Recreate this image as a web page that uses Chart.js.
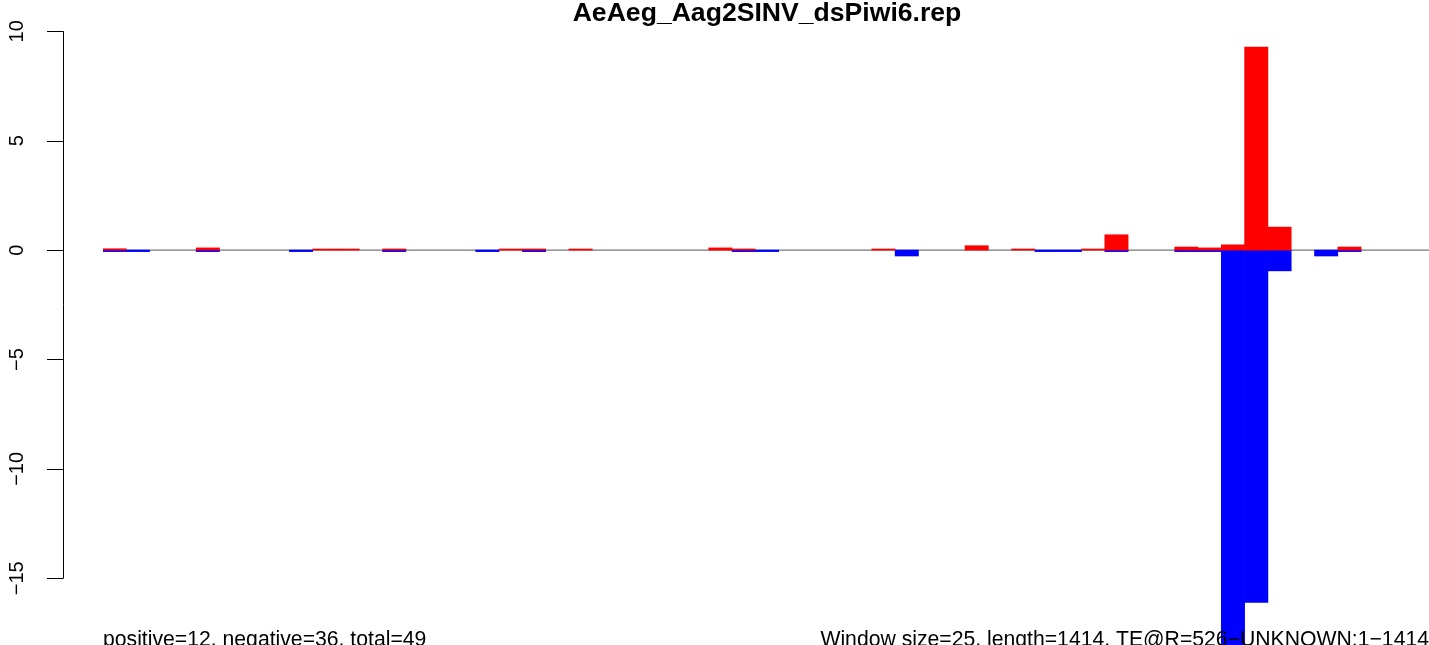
<!DOCTYPE html>
<html>
<head>
<meta charset="utf-8">
<script src="https://cdn.jsdelivr.net/npm/chart.js@4/dist/chart.umd.min.js"></script>
<style>
body{margin:0;background:#fff;overflow:hidden;}
#wrap{width:1431px;height:645px;position:relative;}
</style>
</head>
<body>
<div id="wrap"><canvas id="myChart"></canvas></div>
<script>
// window index (25 nt windows along the TE)
const windows =
Array.from({length:57},(v,i)=>String(i+1));

// positive strand (red), null = empty window
const positive = [
0.06,null,null,null,0.10,null,null,null,null,0.05,
0.05,null,0.05,null,null,null,null,0.05,0.05,null,
0.05,null,null,null,null,null,0.10,0.05,null,null,
null,null,null,0.05,null,null,null,0.20,null,0.05,
null,null,0.05,0.70,null,null,0.14,0.10,0.24,9.28,
1.05,null,null,0.14,null,null,null
];

// negative strand (blue)
const negative = [
-0.07,-0.07,null,null,-0.07,null,null,null,-0.07,null,
null,null,-0.07,null,null,null,-0.07,null,-0.07,null,
null,null,null,null,null,null,null,-0.07,-0.07,null,
null,null,null,null,-0.27,null,null,null,null,null,
-0.07,-0.07,null,-0.07,null,null,-0.07,-0.07,-20,-16.1,
-0.95,null,-0.27,-0.07,null,null,null
];

const yTicks = [10,5,0,-5,-10,-15];

const titleText = "AeAeg_Aag2SINV_dsPiwi6.rep";
const leftNote = "positive=12, negative=36, total=49";
const rightNote = "Window size=25, length=1414, TE@R=526\u2212UNKNOWN:1\u22121414";

const rStyle = {
id:"rStyle",
beforeDatasetsDraw(chart){
const c = chart.ctx;
const a = chart.chartArea;
const y0 = chart.scales.y.getPixelForValue(0);
c.save();
c.strokeStyle="#777777";
c.lineWidth=1.3;
c.beginPath();
c.moveTo(a.left,y0);
c.lineTo(a.right,y0);
c.stroke();
c.restore();
},
afterDraw(chart){
const c = chart.ctx;
const ys = chart.scales.y;
c.save();
// y axis, R style
c.strokeStyle="#000";
c.lineWidth=1;
const ax = 63.5;
c.beginPath();
c.moveTo(ax,ys.getPixelForValue(yTicks[0]));
c.lineTo(ax,ys.getPixelForValue(yTicks[yTicks.length-1]));
yTicks.forEach(t=>{
let py = Math.round(ys.getPixelForValue(t))+0.5;
c.moveTo(ax,py);
c.lineTo(47,py);
});
c.stroke();
c.fillStyle="#000";
c.font="20px 'Liberation Sans', Arial, sans-serif";
c.textAlign="center";
c.textBaseline="alphabetic";
yTicks.forEach(t=>{
let py = ys.getPixelForValue(t);
c.save();
c.translate(23,py);
c.rotate(-Math.PI/2);
c.fillText(String(t).replace("-","\u2212"),0,0);
c.restore();
});
// title
c.font="bold 26.6px 'Liberation Sans', Arial, sans-serif";
c.fillText(titleText,767,21);
// bottom notes
c.font="21.2px 'Liberation Sans', Arial, sans-serif";
c.textAlign="left";
c.fillText(leftNote,103,646);
c.textAlign="right";
c.fillText(rightNote,1429,646);
c.restore();
}
};

const ctx =
document
.getElementById("myChart");

let chart =
new Chart(ctx,{

type:"bar",

data:{
labels:windows,
datasets:[{
label:"positive",
data:positive,
backgroundColor:"#ff0000",
grouped:false,
barPercentage:1,
categoryPercentage:1
},{
label:"negative",
data:negative,
backgroundColor:"#0000ff",
grouped:false,
barPercentage:1,
categoryPercentage:1
}]
},

options:{
responsive:true,
maintainAspectRatio:false,
animation:false,
layout:{padding:{left:103,right:0,top:0,bottom:0}},
plugins:{legend:{display:false},tooltip:{enabled:false}},
scales:{
x:{display:false,offset:true},
y:{display:false,min:-18.05,max:11.43}
}
},

plugins:[rStyle]

});
</script>
</body>
</html>
